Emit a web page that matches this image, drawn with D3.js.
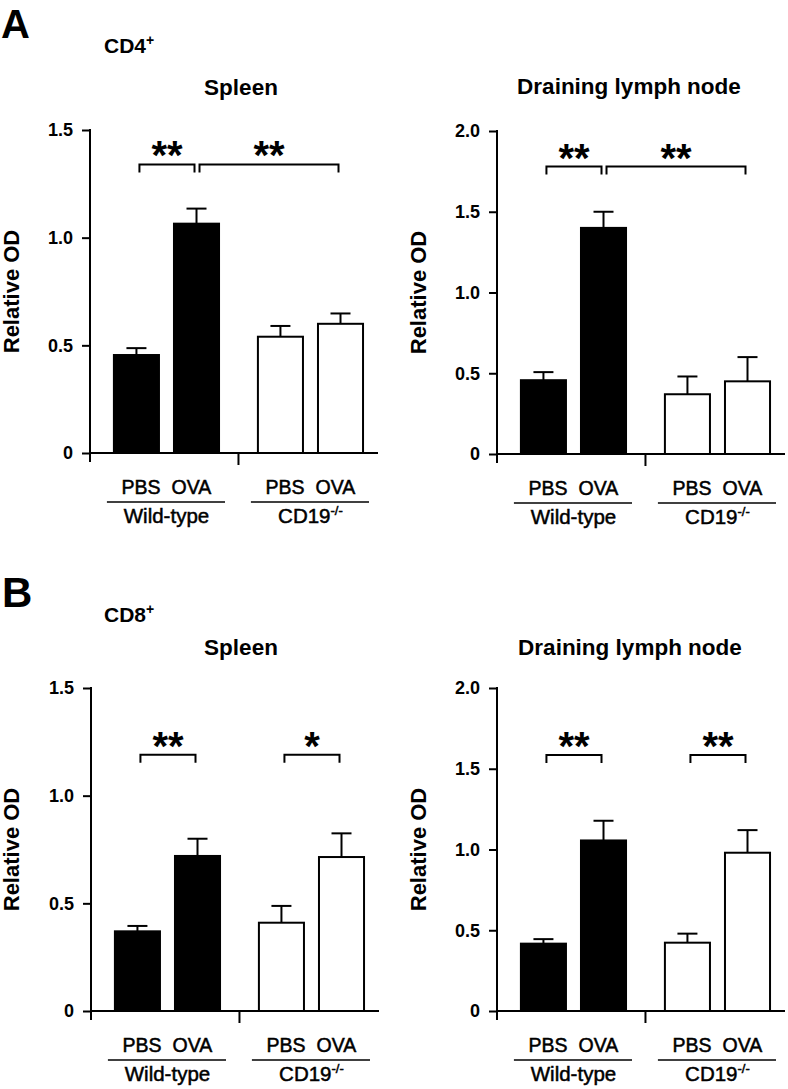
<!DOCTYPE html>
<html>
<head>
<meta charset="utf-8">
<script src="https://cdn.jsdelivr.net/npm/d3@7"></script>
<style>
  body { margin: 0; background: #fff; }
  text { font-family: "Liberation Sans", Arial, Helvetica, sans-serif; fill: #000; }
</style>
</head>
<body>
<script>
// groups and treatments
const groups = ["Wild-type", "CD19"];
const treatments = ["PBS", "OVA"];

// bar heights (mean) and error (upper SEM), order: WT-PBS, WT-OVA, CD19-PBS, CD19-OVA
const cd4SpleenMean = [0.455, 1.065, 0.54, 0.60];
const cd4SpleenErr = [0.032, 0.07, 0.05, 0.048];
const cd4NodeMean = [0.457, 1.40, 0.37, 0.45];
const cd4NodeErr = [0.05, 0.10, 0.11, 0.15];
const cd8SpleenMean = [0.37, 0.72, 0.41, 0.715];
const cd8SpleenErr = [0.025, 0.08, 0.078, 0.11];
const cd8NodeMean = [0.417, 1.056, 0.423, 0.98];
const cd8NodeErr = [0.028, 0.122, 0.056, 0.14];

const ticks15 = [0, 0.5, 1.0, 1.5];
const ticks20 = [0, 0.5, 1.0, 1.5, 2.0];

// significance brackets: bar indices, label, height in data units
const cd4SpleenSig = [[0, 1, "**", 1.34], [1, 3, "**", 1.34]];
const cd4NodeSig = [[0, 1, "**", 1.78], [1, 3, "**", 1.78]];
const cd8SpleenSig = [[0, 1, "**", 1.19], [2, 3, "*", 1.19]];
const cd8NodeSig = [[0, 1, "**", 1.585], [2, 3, "**", 1.585]];

const svg = d3.select("body").append("svg")
    .attr("width", 788)
    .attr("height", 1089);

// panel letters and cell labels
svg.append("text").attr("x", 1).attr("y", 38).attr("font-size", 40).attr("font-weight", "bold").text("A");
svg.append("text").attr("x", 2).attr("y", 607).attr("font-size", 42).attr("font-weight", "bold").text("B");

function cellLabel(x, y, name) {
    const t = svg.append("text").attr("x", x).attr("y", y)
        .attr("font-size", 21).attr("font-weight", "bold");
    t.append("tspan").text(name);
    t.append("tspan").attr("dy", -8).attr("font-size", 14).text("+");
}
cellLabel(104, 53, "CD4");
cellLabel(104, 622, "CD8");

const axisW = 288;

function drawPanel(p) {
    const g = svg.append("g").attr("transform", `translate(${p.x},${p.top})`);
    const h = p.bottom - p.top;

    const y = d3.scaleLinear().domain([0, p.max]).range([h, 0]);
    const outer = d3.scaleBand().domain(groups).range([0, axisW])
        .paddingInner(0.27).paddingOuter(0.135).align(0.615);
    const inner = d3.scaleBand().domain(treatments).range([0, outer.bandwidth()])
        .paddingInner(0.25);

    const bars = [];
    groups.forEach((grp, gi) => {
        treatments.forEach((tr, ti) => {
            const i = gi * 2 + ti;
            bars.push({ grp, tr, gi, mean: p.mean[i], err: p.err[i],
                x: outer(grp) + inner(tr) });
        });
    });
    const bw = inner.bandwidth();
    const cx = d => d.x + bw / 2;

    // title
    g.append("text")
        .attr("x", p.titleX)
        .attr("y", p.titleY - p.top)
        .attr("text-anchor", "middle")
        .attr("font-size", 22.5)
        .attr("font-weight", "bold")
        .text(p.title);

    // y axis
    const ya = g.append("g")
        .call(d3.axisLeft(y).tickValues(p.ticks).tickSize(8).tickPadding(9)
            .tickFormat(d => d === 0 ? "0" : d3.format(".1f")(d)));
    ya.select(".domain").remove();
    ya.selectAll("line").attr("stroke", "#000").attr("stroke-width", 2);
    ya.selectAll("text")
        .attr("font-size", 18)
        .attr("font-weight", "bold")
        .attr("font-family", "Liberation Sans, Arial, sans-serif");

    g.append("line")
        .attr("x1", 0).attr("x2", 0)
        .attr("y1", y(p.max) - 1).attr("y2", h + 9)
        .attr("stroke", "#000").attr("stroke-width", 2);

    // x axis
    g.append("line")
        .attr("x1", 0).attr("x2", axisW)
        .attr("y1", h).attr("y2", h)
        .attr("stroke", "#000").attr("stroke-width", 2);
    const midX = (outer(groups[0]) + outer.bandwidth() + outer(groups[1])) / 2;
    g.append("line")
        .attr("x1", midX).attr("x2", midX)
        .attr("y1", h).attr("y2", h + 12)
        .attr("stroke", "#000").attr("stroke-width", 2);

    // error bars
    g.selectAll("line.err")
        .data(bars)
        .enter()
        .append("line")
        .attr("class", "err")
        .attr("x1", cx).attr("x2", cx)
        .attr("y1", d => y(d.mean)).attr("y2", d => y(d.mean + d.err))
        .attr("stroke", "#000").attr("stroke-width", 2);
    g.selectAll("line.cap")
        .data(bars)
        .enter()
        .append("line")
        .attr("class", "cap")
        .attr("x1", d => cx(d) - 10).attr("x2", d => cx(d) + 10)
        .attr("y1", d => y(d.mean + d.err)).attr("y2", d => y(d.mean + d.err))
        .attr("stroke", "#000").attr("stroke-width", 2);

    // bars
    g.selectAll("rect")
        .data(bars)
        .enter()
        .append("rect")
        .attr("x", d => d.x)
        .attr("y", d => y(d.mean))
        .attr("width", bw)
        .attr("height", d => h - y(d.mean))
        .attr("fill", d => d.gi === 0 ? "#000" : "#fff")
        .attr("stroke", "#000")
        .attr("stroke-width", 2);

    // significance brackets
    p.sig.forEach(([a, b, label, at]) => {
        const x1 = cx(bars[a]) + 3;
        const x2 = cx(bars[b]) - 2;
        const by = y(at);
        g.append("path")
            .attr("d", `M${x1},${by + 8}V${by}H${x2}V${by + 8}`)
            .attr("fill", "none")
            .attr("stroke", "#000")
            .attr("stroke-width", 2);
        g.append("text")
            .attr("x", (x1 + x2) / 2)
            .attr("y", by + 5)
            .attr("text-anchor", "middle")
            .attr("font-size", 40)
            .attr("font-weight", "bold")
            .text(label);
    });

    // category labels
    groups.forEach((grp, gi) => {
        const gx = outer(grp);
        const gc = gx + outer.bandwidth() / 2;
        g.append("text")
            .attr("x", gc - 6).attr("y", h + 41)
            .attr("text-anchor", "end")
            .attr("font-size", 19.5)
            .attr("stroke", "#000").attr("stroke-width", 0.5)
            .text(treatments[0]);
        g.append("text")
            .attr("x", gc + 5).attr("y", h + 41)
            .attr("text-anchor", "start")
            .attr("font-size", 19.5)
            .attr("stroke", "#000").attr("stroke-width", 0.5)
            .text(treatments[1]);
        g.append("line")
            .attr("x1", gx - 7).attr("x2", gx + outer.bandwidth() + 6)
            .attr("y1", h + 49).attr("y2", h + 49)
            .attr("stroke", "#000").attr("stroke-width", 1.5);
        const t = g.append("text")
            .attr("x", gc).attr("y", h + 70)
            .attr("text-anchor", "middle")
            .attr("font-size", 20.5)
            .attr("stroke", "#000").attr("stroke-width", 0.5);
        t.append("tspan").text(grp);
        if (gi === 1) {
            t.append("tspan").attr("dy", -8).attr("font-size", 13).text("-/-");
        }
    });

    // y label
    g.append("text")
        .attr("transform", `translate(${p.labelX - p.x},${h / 2}) rotate(-90)`)
        .attr("text-anchor", "middle")
        .attr("font-size", 22)
        .attr("font-weight", "bold")
        .text("Relative OD");
}

const panels = [
    { x: 90, top: 130, bottom: 453, max: 1.5, ticks: ticks15, mean: cd4SpleenMean, err: cd4SpleenErr,
      sig: cd4SpleenSig, title: "Spleen", titleX: 151, titleY: 95, labelX: 19 },
    { x: 497, top: 131, bottom: 454, max: 2.0, ticks: ticks20, mean: cd4NodeMean, err: cd4NodeErr,
      sig: cd4NodeSig, title: "Draining lymph node", titleX: 132, titleY: 94, labelX: 426 },
    { x: 91, top: 688, bottom: 1011, max: 1.5, ticks: ticks15, mean: cd8SpleenMean, err: cd8SpleenErr,
      sig: cd8SpleenSig, title: "Spleen", titleX: 150, titleY: 655, labelX: 19 },
    { x: 497, top: 688, bottom: 1011, max: 2.0, ticks: ticks20, mean: cd8NodeMean, err: cd8NodeErr,
      sig: cd8NodeSig, title: "Draining lymph node", titleX: 133, titleY: 655, labelX: 426 }
];

panels.forEach(drawPanel);
</script>
</body>
</html>
